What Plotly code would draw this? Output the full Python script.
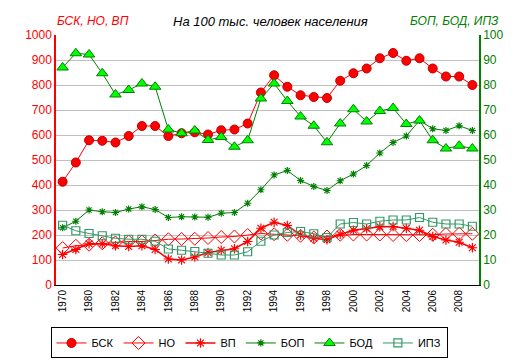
import plotly.graph_objects as go

years = ["1970", "1975"] + [str(y) for y in range(1980, 2010)]
tick_labels = ["1970"] + [str(y) for y in range(1980, 2010, 2)]

bsk = [413, 490, 579, 577, 570, 596, 636, 636, 596, 607, 611, 602, 619, 622, 646, 770,
       839, 793, 759, 752, 748, 817, 847, 866, 907, 928, 897, 907, 866, 834, 834, 800]
no = [148, 157, 161, 167, 170, 174, 174, 178, 183, 184, 185, 188, 192, 194, 200, 206,
      203, 201, 197, 190, 194, 201, 202, 202, 202, 200, 200, 200, 201, 204, 205, 205]
vp = [122, 142, 165, 165, 157, 154, 157, 142, 104, 100, 112, 130, 139, 145, 174, 227,
      251, 238, 200, 187, 181, 203, 219, 225, 233, 234, 227, 219, 194, 180, 171, 149]
bop = [22.9, 25.5, 30.0, 29.3, 29.0, 30.4, 31.3, 30.2, 27.0, 27.3, 27.2, 27.1, 28.7, 29.0,
       32.7, 38.1, 44.0, 45.8, 41.8, 39.4, 37.8, 41.7, 44.4, 47.8, 52.8, 57.0, 59.6, 65.8,
       62.5, 61.8, 63.7, 61.8]
bod = [87.0, 92.7, 92.2, 84.7, 76.2, 78.0, 80.6, 79.3, 62.2, 60.7, 61.8, 58.0, 59.2, 55.3,
       57.9, 74.6, 80.6, 73.6, 67.4, 63.7, 57.1, 64.6, 70.3, 65.4, 69.6, 70.8, 64.4, 65.8,
       57.9, 54.6, 55.7, 54.6]
ipz = [23.9, 21.7, 20.6, 19.7, 18.7, 18.3, 18.3, 17.5, 14.4, 13.9, 13.4, 12.7, 12.0, 12.0,
       13.3, 17.5, 20.0, 21.0, 21.4, 20.5, 19.0, 24.4, 25.0, 24.4, 25.5, 26.0, 26.0, 27.0,
       25.1, 24.4, 24.4, 23.5]

x = list(range(len(years)))
tickvals = [years.index(t) for t in tick_labels]

RED = "#ff0000"
GREEN = "#008000"
TEAL = "#339966"

fig = go.Figure()
fig.add_trace(go.Scatter(x=x, y=bsk, name="БСК", mode="lines+markers",
                         line=dict(color=RED, width=1),
                         marker=dict(symbol="circle", size=9, color=RED,
                                     line=dict(color="#c00000", width=1))))
fig.add_trace(go.Scatter(x=x, y=no, name="НО", mode="lines+markers",
                         line=dict(color=RED, width=1),
                         marker=dict(symbol="diamond-open", size=10, color=RED,
                                     line=dict(color=RED, width=1))))
fig.add_trace(go.Scatter(x=x, y=vp, name="ВП", mode="lines+markers",
                         line=dict(color=RED, width=1.5),
                         marker=dict(symbol="asterisk-open", size=8, color=RED,
                                     line=dict(color=RED, width=1.2))))
fig.add_trace(go.Scatter(x=x, y=bop, name="БОП", mode="lines+markers", yaxis="y2",
                         line=dict(color=GREEN, width=1),
                         marker=dict(symbol="asterisk-open", size=6, color=GREEN,
                                     line=dict(color=GREEN, width=1.2))))
fig.add_trace(go.Scatter(x=x, y=bod, name="БОД", mode="lines+markers", yaxis="y2",
                         line=dict(color=GREEN, width=1),
                         marker=dict(symbol="triangle-up", size=10, color="#00ff00",
                                     line=dict(color=GREEN, width=1))))
fig.add_trace(go.Scatter(x=x, y=ipz, name="ИПЗ", mode="lines+markers", yaxis="y2",
                         line=dict(color=TEAL, width=1),
                         marker=dict(symbol="square-open", size=8, color=TEAL,
                                     line=dict(color=TEAL, width=1.2))))

font = "Liberation Sans, Arial, sans-serif"
L, R, T, B = 48, 44, 27, 77
W, H = 515, 363
plot_w = W - L - R
plot_h = H - T - B


def px(xp):
    return (xp - L) / plot_w


def py(yp):
    return (H - B - yp) / plot_h


fig.update_layout(
    width=W, height=H,
    margin=dict(l=L, r=R, t=T, b=B),
    paper_bgcolor="white", plot_bgcolor="white",
    font=dict(family=font, size=12, color="black"),
    showlegend=True,
    xaxis=dict(range=[-0.5, len(years) - 0.5], tickvals=tickvals, ticktext=tick_labels,
               tickangle=-90, tickfont=dict(size=10, color="black"),
               showgrid=False, zeroline=False, showline=True, linecolor="black",
               linewidth=1, ticks="", fixedrange=True),
    yaxis=dict(range=[0, 1000], dtick=100, tickfont=dict(size=12, color=RED),
               showgrid=True, gridcolor="#c0c0c0", gridwidth=1, zeroline=False,
               showline=True, linecolor=RED, linewidth=1.5, ticks=""),
    yaxis2=dict(range=[0, 100], dtick=10, overlaying="y", side="right",
                tickfont=dict(size=12, color=GREEN), showgrid=False, zeroline=False,
                showline=True, linecolor=GREEN, linewidth=1.5, ticks=""),
    legend=dict(orientation="h", x=px(241), xanchor="center", y=py(330), yanchor="top",
                bordercolor="black", borderwidth=1, bgcolor="white",
                font=dict(size=11, color="black"), itemwidth=30),
)
fig.add_annotation(text="<i>На 100 тыс. человек населения</i>", x=px(262), y=py(13),
                   xref="paper", yref="paper", showarrow=False, xanchor="center",
                   yanchor="middle", font=dict(size=13, color="black"))
fig.add_annotation(text="<i>БСК, НО, ВП</i>", x=px(85), y=py(13),
                   xref="paper", yref="paper", showarrow=False, xanchor="center",
                   yanchor="middle", font=dict(size=12, color=RED))
fig.add_annotation(text="<i>БОП, БОД, ИПЗ</i>", x=px(446), y=py(13),
                   xref="paper", yref="paper", showarrow=False, xanchor="center",
                   yanchor="middle", font=dict(size=12, color=GREEN))

fig.write_html("out.html")
